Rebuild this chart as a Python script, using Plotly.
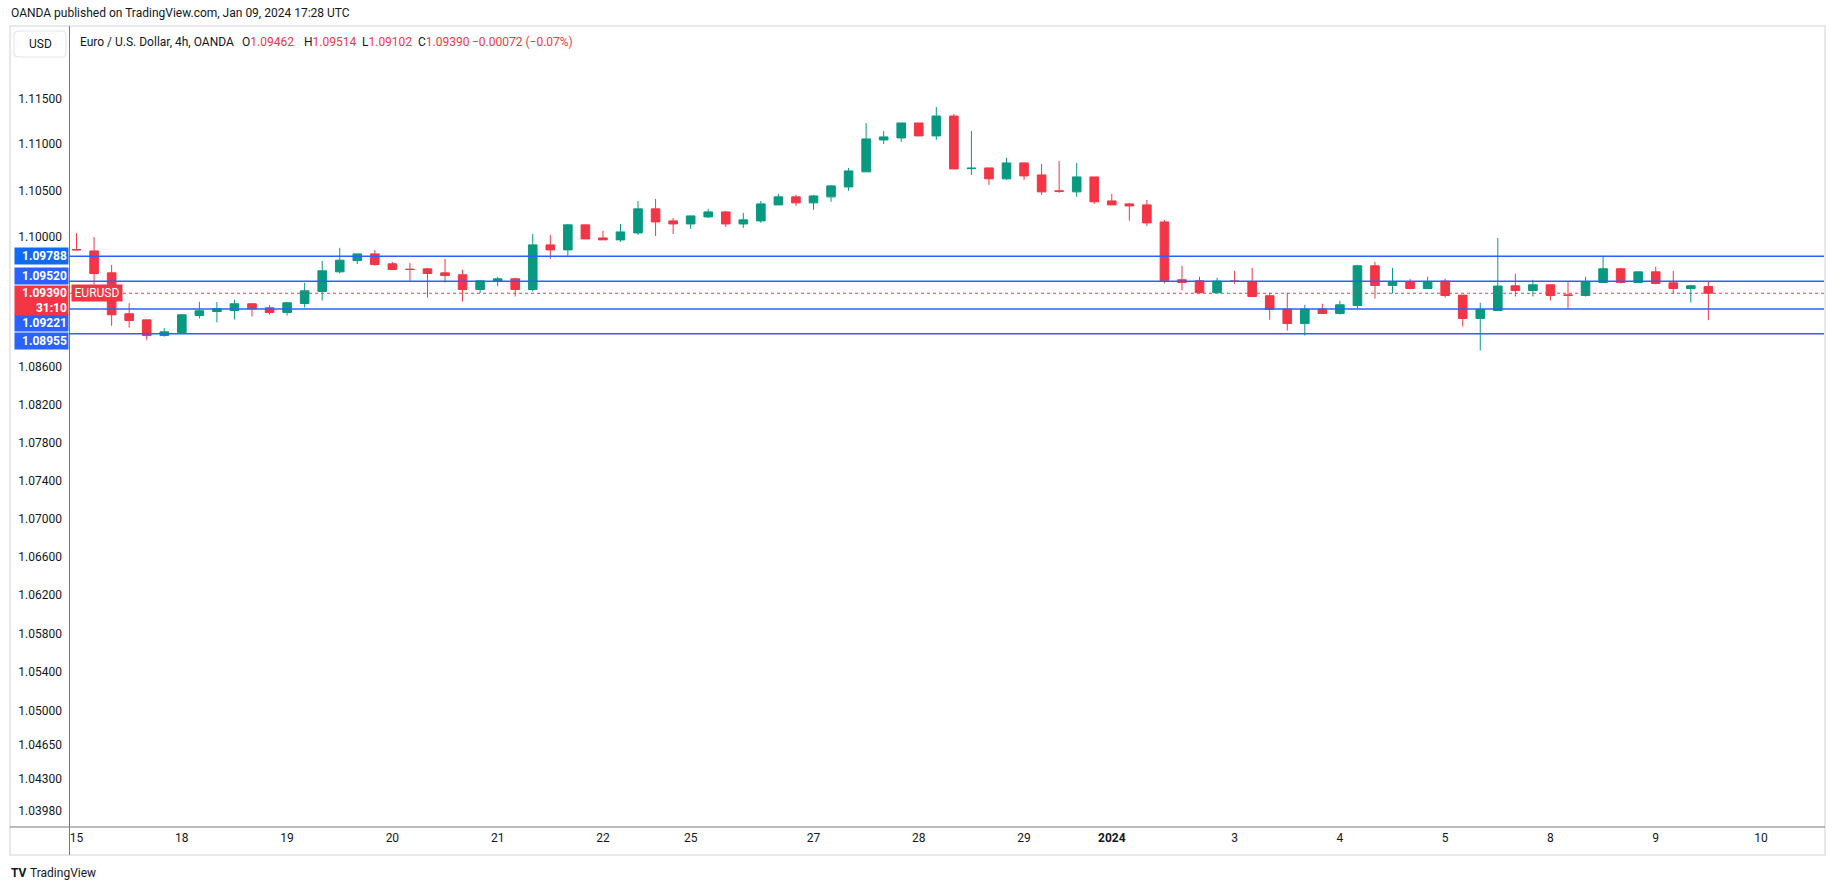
import math
import plotly.graph_objects as go

# ---------------- data (EURUSD, 4h, OANDA) ----------------
opens = [1.09860, 1.09845, 1.09609, 1.09170, 1.09105, 1.08937, 1.08969, 1.09151, 1.09194, 1.09205,
         1.09277, 1.09234, 1.09184, 1.09280, 1.09409, 1.09620, 1.09741, 1.09813, 1.09706, 1.09649,
         1.09652, 1.09609, 1.09588, 1.09430, 1.09520, 1.09545, 1.09430, 1.09910, 1.09856, 1.10126,
         1.09985, 1.09964, 1.10039, 1.10299, 1.10169, 1.10136, 1.10212, 1.10266, 1.10136, 1.10169,
         1.10342, 1.10429, 1.10364, 1.10429, 1.10537, 1.10700, 1.11047, 1.11069, 1.11232, 1.11091,
         1.11308, 1.10735, 1.10743, 1.10624, 1.10797, 1.10667, 1.10494, 1.10483, 1.10645, 1.10385,
         1.10353, 1.10342, 1.10158, 1.09535, 1.09524, 1.09395, 1.09522, 1.09513, 1.09363, 1.09220,
         1.09065, 1.09220, 1.09173, 1.09259, 1.09685, 1.09473, 1.09516, 1.09441, 1.09520, 1.09370,
         1.09120, 1.09205, 1.09470, 1.09420, 1.09481, 1.09372, 1.09366, 1.09506, 1.09653, 1.09506,
         1.09620, 1.09502, 1.09441, 1.09462]
highs = [1.10036, 1.09996, 1.09695, 1.09284, 1.09105, 1.09016, 1.09165, 1.09298, 1.09295, 1.09320,
         1.09284, 1.09263, 1.09298, 1.09502, 1.09738, 1.09878, 1.09813, 1.09856, 1.09727, 1.09717,
         1.09663, 1.09759, 1.09642, 1.09534, 1.09566, 1.09556, 1.10028, 1.10017, 1.10136, 1.10126,
         1.10061, 1.10136, 1.10385, 1.10407, 1.10201, 1.10223, 1.10299, 1.10277, 1.10256, 1.10385,
         1.10461, 1.10450, 1.10450, 1.10559, 1.10743, 1.11232, 1.11145, 1.11232, 1.11232, 1.11406,
         1.11330, 1.11145, 1.10743, 1.10852, 1.10797, 1.10787, 1.10819, 1.10797, 1.10645, 1.10461,
         1.10364, 1.10396, 1.10180, 1.09685, 1.09567, 1.09556, 1.09631, 1.09663, 1.09395, 1.09395,
         1.09266, 1.09277, 1.09309, 1.09695, 1.09727, 1.09663, 1.09545, 1.09567, 1.09545, 1.09370,
         1.09288, 1.09985, 1.09599, 1.09534, 1.09481, 1.09520, 1.09567, 1.09792, 1.09663, 1.09620,
         1.09674, 1.09631, 1.09481, 1.09514]
lows = [1.09852, 1.09481, 1.09041, 1.09022, 1.08891, 1.08926, 1.08965, 1.09120, 1.09077, 1.09109,
        1.09141, 1.09162, 1.09151, 1.09237, 1.09312, 1.09602, 1.09703, 1.09688, 1.09645, 1.09524,
        1.09343, 1.09506, 1.09301, 1.09392, 1.09462, 1.09355, 1.09409, 1.09760, 1.09792, 1.09974,
        1.09964, 1.09942, 1.10017, 1.10006, 1.10028, 1.10082, 1.10201, 1.10104, 1.10093, 1.10147,
        1.10342, 1.10331, 1.10288, 1.10375, 1.10494, 1.10700, 1.11003, 1.11025, 1.11091, 1.11047,
        1.10732, 1.10667, 1.10559, 1.10613, 1.10613, 1.10450, 1.10472, 1.10429, 1.10353, 1.10342,
        1.10172, 1.10115, 1.09495, 1.09420, 1.09395, 1.09395, 1.09491, 1.09355, 1.09105, 1.08990,
        1.08937, 1.09173, 1.09162, 1.09227, 1.09333, 1.09388, 1.09441, 1.09441, 1.09344, 1.09034,
        1.08777, 1.09205, 1.09355, 1.09355, 1.09312, 1.09223, 1.09355, 1.09506, 1.09495, 1.09506,
        1.09484, 1.09388, 1.09291, 1.09102]
closes = [1.09856, 1.09602, 1.09159, 1.09098, 1.08937, 1.08977, 1.09159, 1.09202, 1.09223, 1.09277,
          1.09223, 1.09184, 1.09288, 1.09416, 1.09631, 1.09745, 1.09813, 1.09698, 1.09645, 1.09645,
          1.09602, 1.09580, 1.09430, 1.09523, 1.09545, 1.09430, 1.09910, 1.09856, 1.10126, 1.09974,
          1.09964, 1.10050, 1.10299, 1.10158, 1.10136, 1.10223, 1.10266, 1.10136, 1.10180, 1.10353,
          1.10429, 1.10364, 1.10439, 1.10548, 1.10710, 1.11058, 1.11080, 1.11232, 1.11091, 1.11308,
          1.10732, 1.10740, 1.10624, 1.10797, 1.10656, 1.10483, 1.10489, 1.10645, 1.10375, 1.10342,
          1.10331, 1.10147, 1.09524, 1.09506, 1.09395, 1.09520, 1.09518, 1.09355, 1.09216, 1.09065,
          1.09220, 1.09173, 1.09266, 1.09685, 1.09473, 1.09516, 1.09441, 1.09516, 1.09366, 1.09120,
          1.09216, 1.09467, 1.09420, 1.09481, 1.09366, 1.09368, 1.09516, 1.09653, 1.09506, 1.09620,
          1.09495, 1.09441, 1.09470, 1.09390]

day_labels = ["15", "18", "19", "20", "21", "22", "25", "26", "27", "28", "29",
              "2024", "2", "3", "4", "5", "8", "9", "10"]
bars_per_day = [6, 6, 6, 6, 6, 5, 1, 6, 6, 6, 5, 1, 6, 6, 6, 6, 6, 6, 6]
hidden_day_labels = ["26", "2"]

price_ticks = [1.11500, 1.11000, 1.10500, 1.10000, 1.08600, 1.08200, 1.07800, 1.07400,
               1.07000, 1.06600, 1.06200, 1.05800, 1.05400, 1.05000, 1.04650, 1.04300, 1.03980]

level_prices = [1.09788, 1.09520, 1.09221, 1.08955]
last_price = 1.09390
countdown = "31:10"
legend_ohlc = {"O": "1.09462", "H": "1.09514", "L": "1.09102", "C": "1.09390"}
legend_change = "\u22120.00072 (\u22120.07%)"

# ---------------- layout helpers ----------------
W, H = 1835, 891
ML, MR, MT, MB = 69, 11, 27, 64
PW, PH = W - ML - MR, H - MT - MB


def px(x):
    return (x - ML) / PW


def py(y):
    return (H - MB - y) / PH


UP = "#089981"
DN = "#F23645"
BLUE = "#2962FF"
TXT = "#131722"
AX = "#787b86"
FONT = "Roboto"

bar_index = list(range(len(opens)))

# tick positions from bars per day
tickvals, ticktext = [], []
pos = 0
for lab, n in zip(day_labels, bars_per_day):
    if lab not in hidden_day_labels:
        tickvals.append(pos)
        ticktext.append("<b>" + lab + "</b>" if lab == "2024" else lab)
    pos += n

fig = go.Figure()
fig.add_trace(go.Candlestick(
    x=bar_index, open=opens, high=highs, low=lows, close=closes,
    increasing=dict(line=dict(color=UP, width=1), fillcolor=UP),
    decreasing=dict(line=dict(color=DN, width=1), fillcolor=DN),
    whiskerwidth=0, hoverinfo="skip", showlegend=False,
))

shapes = []
# frame of the chart box
shapes.append(dict(type="rect", xref="paper", yref="paper",
                   x0=px(10), x1=px(1825), y0=py(855), y1=py(26),
                   line=dict(color="#e6e8ee", width=2), layer="below"))
# time-axis separator and price-axis separator
shapes.append(dict(type="line", xref="paper", yref="paper",
                   x0=px(10), x1=px(1825), y0=0, y1=0, line=dict(color=AX, width=1)))
shapes.append(dict(type="line", xref="paper", yref="paper",
                   x0=px(69.5), x1=px(69.5), y0=py(855), y1=py(26), line=dict(color=AX, width=1)))
# horizontal levels
for p in level_prices:
    shapes.append(dict(type="line", xref="paper", yref="y", x0=0, x1=1, y0=p, y1=p,
                       line=dict(color=BLUE, width=1.5)))
# last price dotted line
shapes.append(dict(type="line", xref="paper", yref="y", x0=0, x1=1,
                   y0=last_price, y1=last_price, line=dict(color=DN, width=1, dash="dot")))


def rrect_path(x0, y0, x1, y1, r):
    pts = [("M", x0 + r, y0), ("L", x1 - r, y0), ("Q", x1, y0, x1, y0 + r), ("L", x1, y1 - r),
           ("Q", x1, y1, x1 - r, y1), ("L", x0 + r, y1), ("Q", x0, y1, x0, y1 - r),
           ("L", x0, y0 + r), ("Q", x0, y0, x0 + r, y0)]
    out = []
    for p in pts:
        if p[0] == "Q":
            out.append("Q %f,%f %f,%f" % (px(p[1]), py(p[2]), px(p[3]), py(p[4])))
        else:
            out.append("%s %f,%f" % (p[0], px(p[1]), py(p[2])))
    return " ".join(out) + " Z"


shapes.append(dict(type="path", xref="paper", yref="paper", path=rrect_path(14, 31, 66, 57, 4),
                   line=dict(color="#e0e3eb", width=1), fillcolor="white"))

LEG = 12
ann = []
# header
ann.append(dict(text="OANDA published on TradingView.com, Jan 09, 2024 17:28 UTC",
                xref="paper", yref="paper", x=px(9), y=py(13), xanchor="left", yanchor="middle",
                showarrow=False, font=dict(family=FONT, size=12, color=TXT)))
ann.append(dict(text="USD", xref="paper", yref="paper", x=px(40), y=py(44),
                xanchor="center", yanchor="middle", showarrow=False,
                font=dict(family=FONT, size=12, color=TXT)))
ann.append(dict(text="Euro / U.S. Dollar, 4h, OANDA", xref="paper", yref="paper",
                x=px(78), y=py(42), xanchor="left", yanchor="middle", showarrow=False,
                font=dict(family=FONT, size=LEG, color=TXT)))
for (k, v), xx in zip(legend_ohlc.items(), [240, 302, 360, 416]):
    ann.append(dict(text=k + "<span style='color:%s'>%s</span>" % (DN, v), xref="paper", yref="paper",
                    x=px(xx), y=py(42), xanchor="left", yanchor="middle", showarrow=False,
                    font=dict(family=FONT, size=LEG, color=TXT)))
ann.append(dict(text=legend_change, xref="paper", yref="paper", x=px(470), y=py(42),
                xanchor="left", yanchor="middle", showarrow=False,
                font=dict(family=FONT, size=LEG, color=DN)))

# price-axis labels for the levels
level_shift = [0, 5, -14, -7]
level_bg = ["#0f6bf5", BLUE, BLUE, BLUE]
for p, s, bg in zip(level_prices, level_shift, level_bg):
    ann.append(dict(text="<b>%.5f</b>" % p, xref="paper", yref="y", x=0, y=math.log10(p),
                    xanchor="right", yanchor="middle", yshift=s, showarrow=False,
                    bgcolor=bg, width=51, height=14, borderpad=1, align="right",
                    font=dict(family=FONT, size=12, color="white")))
# last price label with countdown
ann.append(dict(text="<b>%.5f</b><br><b>%s</b>" % (last_price, countdown), xref="paper", yref="y",
                x=0, y=math.log10(last_price), xanchor="right", yanchor="middle", yshift=-7,
                showarrow=False, bgcolor=DN, width=51, height=27, borderpad=1, align="right",
                font=dict(family=FONT, size=12, color="white")))
ann.append(dict(text="EURUSD", xref="paper", yref="y", x=px(71), y=math.log10(last_price),
                xanchor="left", yanchor="middle", showarrow=False, bgcolor=DN,
                width=48, height=14, borderpad=1,
                font=dict(family=FONT, size=12, color="white")))
# TradingView logo
ann.append(dict(text="<b>TV</b>", xref="paper", yref="paper", x=px(9), y=py(873),
                xanchor="left", yanchor="middle", showarrow=False,
                font=dict(family=FONT, size=12, color=TXT)))
ann.append(dict(text="TradingView", xref="paper", yref="paper", x=px(28), y=py(873),
                xanchor="left", yanchor="middle", showarrow=False,
                font=dict(family=FONT, size=12, color=TXT)))

# y range from the pixel frame of the log scale
y_top = 1.12284
y_bot = 1.03811

fig.update_layout(
    width=W, height=H,
    margin=dict(l=ML, r=MR, t=MT, b=MB, autoexpand=False),
    paper_bgcolor="white", plot_bgcolor="white",
    font=dict(family=FONT, color=TXT),
    shapes=shapes, annotations=ann,
    xaxis=dict(range=[-0.43, 99.59], tickvals=tickvals, ticktext=ticktext,
               showgrid=False, zeroline=False, showline=False, ticks="", automargin=False,
               tickfont=dict(family=FONT, size=12, color=TXT), ticklabelstandoff=2,
               rangeslider=dict(visible=False), fixedrange=True),
    yaxis=dict(type="log", range=[math.log10(y_bot), math.log10(y_top)],
               tickvals=price_ticks, ticktext=["%.5f" % t for t in price_ticks],
               showgrid=False, zeroline=False, showline=False,
               ticks="", automargin=False, ticklabelstandoff=6,
               side="left", tickfont=dict(family=FONT, size=12, color=TXT), fixedrange=True),
    showlegend=False,
)

fig.write_html("out.html", config={"displayModeBar": False},
               post_script="document.body.style.margin='0';document.body.style.overflow='hidden';")
